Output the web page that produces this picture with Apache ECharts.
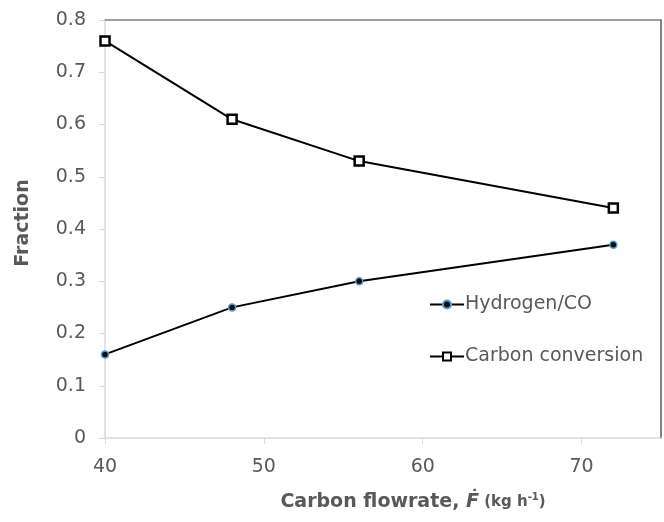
<!DOCTYPE html>
<html><head><meta charset="utf-8">
<script src="https://cdn.jsdelivr.net/npm/echarts@6/dist/echarts.min.js"></script>
<style>html,body{margin:0;padding:0;background:#fff}#c{width:664px;height:522px}</style>
</head><body><div id="c"></div>
<script>
const flowrate = [40, 48, 56, 72];
const hydrogenCO = [0.16, 0.25, 0.30, 0.37];
const carbonConversion = [0.76, 0.61, 0.53, 0.44];
const seriesNames = ['Hydrogen/CO', 'Carbon conversion'];

const chart = echarts.init(document.getElementById('c'));
const font = "'DejaVu Sans', sans-serif";
const grey = '#595959';
chart.setOption({
  animation: false,
  grid: {left: 105, top: 20, right: 3, bottom: 84},
  xAxis: [{
    type: 'value', min: 40, max: 75, interval: 10,
    axisLine: {show: true, onZero: false, lineStyle: {color: '#d9d9d9', width: 1.5}},
    axisTick: {show: true, length: 6, lineStyle: {color: '#d9d9d9'}},
    splitLine: {show: false},
    axisLabel: {color: grey, fontSize: 19, fontFamily: font, margin: 20, showMaxLabel: false}
  }, {
    type: 'value', position: 'top', min: 40, max: 75,
    axisLine: {show: true, onZero: false, lineStyle: {color: '#808080', width: 1.5}},
    axisTick: {show: false}, axisLabel: {show: false}, splitLine: {show: false}
  }],
  yAxis: [{
    type: 'value', min: 0, max: 0.8, interval: 0.1,
    axisLine: {show: true, onZero: false, lineStyle: {color: '#d9d9d9', width: 1.5}},
    axisTick: {show: true, length: 6, lineStyle: {color: '#d9d9d9'}},
    splitLine: {show: false},
    axisLabel: {color: grey, fontSize: 19, fontFamily: font, margin: 19, formatter: v => v === 0 ? '0' : v.toFixed(1)}
  }, {
    type: 'value', position: 'right', min: 0, max: 0.8,
    axisLine: {show: true, onZero: false, lineStyle: {color: '#595959', width: 1.5}},
    axisTick: {show: false}, axisLabel: {show: false}, splitLine: {show: false}
  }],
  legend: {
    orient: 'vertical', left: 424, top: 290, itemGap: 33, itemWidth: 34, itemHeight: 10,
    textStyle: {color: grey, fontSize: 19, fontFamily: font, padding: [0,0,0,-4]},
    data: seriesNames
  },
  graphic: [
    {type: 'text', x: 23, y: 223, rotation: Math.PI/2, style: {text: 'Fraction', fill: grey, font: "bold 19px 'DejaVu Sans', sans-serif", align: 'center', verticalAlign: 'middle'}},
    {type: 'text', x: 413, y: 502, style: {
      text: '{a|Carbon flowrate, }{b|Ḟ}{c| (kg h}{s|-1}{c|)}',
      align: 'center', verticalAlign: 'middle',
      rich: {
        a: {fill: grey, fontSize: 19, fontWeight: 'bold', fontFamily: font},
        b: {fill: grey, fontSize: 19, fontWeight: 'bold', fontStyle: 'italic', fontFamily: font},
        c: {fill: grey, fontSize: 15, fontWeight: 'bold', fontFamily: font},
        s: {fill: grey, fontSize: 10, fontWeight: 'bold', fontFamily: font, verticalAlign: 'top', padding: [0,0,8,0]}
      }
    }}
  ],
  series: [
    {name: seriesNames[0], type: 'line', data: flowrate.map((x,i)=>[x, hydrogenCO[i]]),
     symbol: 'circle', symbolSize: 7, lineStyle: {color: '#000', width: 2},
     itemStyle: {color: '#0d0d0d', borderColor: '#5b9bd5', borderWidth: 1.5}},
    {name: seriesNames[1], type: 'line', data: flowrate.map((x,i)=>[x, carbonConversion[i]]),
     symbol: 'rect', symbolSize: 9, lineStyle: {color: '#000', width: 2},
     itemStyle: {color: '#fff', borderColor: '#000', borderWidth: 2.5}}
  ]
});
</script></body></html>
